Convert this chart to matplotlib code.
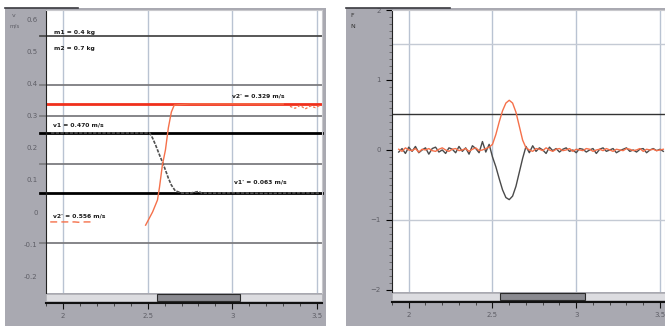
import matplotlib
matplotlib.use('Agg')
import matplotlib.pyplot as plt
import numpy as np
from matplotlib.patches import Rectangle

# ---- data (left panel: velocity, m/s) ----
cart1_t = [1.93, 2.10, 2.30, 2.50, 2.512, 2.529, 2.547, 2.570, 2.587, 2.605, 2.622,
           2.640, 2.663, 2.703, 2.75, 2.80, 2.82, 2.90, 3.00, 3.10, 3.20, 3.30, 3.40, 3.52]
cart1_v = [0.247, 0.247, 0.247, 0.247, 0.247, 0.231, 0.209, 0.178, 0.156, 0.131, 0.106,
           0.084, 0.066, 0.059, 0.059, 0.064, 0.059, 0.059, 0.060, 0.059, 0.058, 0.059, 0.060, 0.059]

cart2_pre_t = [1.925, 1.97, 2.00, 2.07, 2.09, 2.13, 2.18]
cart2_pre_v = [-0.031, -0.031, -0.031, -0.031, -0.032, -0.031, -0.031]
cart2_rise_t = [2.488, 2.529, 2.558, 2.570, 2.587, 2.605, 2.622, 2.640, 2.657, 2.75, 3.0, 3.3]
cart2_rise_v = [-0.041, 0.0, 0.0375, 0.078, 0.147, 0.194, 0.2625, 0.3125, 0.334, 0.3375, 0.3375, 0.3375]
cart2_post_t = [3.34, 3.37, 3.40, 3.43, 3.46, 3.49, 3.52]
cart2_post_v = [0.330, 0.324, 0.333, 0.322, 0.331, 0.326, 0.334]

v_ticks = [0.6, 0.5, 0.4, 0.3, 0.2, 0.1, 0.0, -0.1, -0.2]
v_labels = ['0.6', '0.5', '0.4', '0.3', '0.2', '0.1', '0', '-0.1', '-0.2']
gray_levels = [0.55, 0.397, 0.30, 0.15, -0.097]
v1_mean = 0.247
v1p_mean = 0.059
v2p_mean = 0.3375

# ---- data (right panel: force, N) ----
F_T0 = 1.94
F_DT = 0.02
force2 = [0.01, -0.02, 0.03, 0.0, -0.01, 0.02, -0.03, 0.01, 0.0, 0.02, -0.01, -0.02, 0.01, 0.03,
          0.0, -0.02, 0.01, 0.02, -0.01, 0.0, 0.02, -0.02, 0.01, 0.03, -0.01, 0.0, 0.02, 0.04,
          0.08, 0.22, 0.40, 0.56, 0.67, 0.71, 0.67, 0.54, 0.34, 0.14, 0.03,
          0.0, -0.02, 0.02, 0.01, -0.01, 0.03, 0.0, -0.02, 0.01, 0.02, -0.01, 0.0, 0.02, -0.02,
          0.01, 0.0, -0.01, 0.02, 0.01, -0.02, 0.0, 0.01, -0.01, 0.02, 0.0, -0.02, 0.01, 0.0,
          -0.01, 0.02, 0.01, -0.01, 0.0, 0.02, -0.02, 0.01, 0.0, 0.01, -0.01, 0.0, 0.01]
force1 = [-0.03, 0.02, -0.05, 0.04, -0.02, 0.05, -0.04, 0.0, 0.03, -0.06, 0.02, 0.04, -0.03, 0.0,
          -0.05, 0.03, 0.01, -0.04, 0.05, -0.02, 0.03, -0.06, 0.06, 0.02, -0.04, 0.12, -0.03, 0.08,
          -0.10, -0.24, -0.41, -0.57, -0.68, -0.71, -0.66, -0.52, -0.32, -0.12, 0.05,
          -0.04, 0.06, -0.02, 0.03, 0.0, -0.05, 0.04, -0.01, 0.02, -0.03, 0.01, 0.03, -0.02,
          0.0, -0.04, 0.02, 0.01, -0.03, 0.0, 0.02, -0.05, 0.01, 0.03, -0.02, 0.0, 0.02, -0.04,
          -0.01, 0.01, 0.03, -0.02, 0.0, -0.03, 0.01, 0.02, -0.04, 0.0, 0.02, -0.01, 0.01, -0.02]
f_ticks = [2, 1, 0, -1, -2]
f_levels_light = [1.51, -1.0]
f_level_dark = 0.514

t_ticks = [2.0, 2.5, 3.0, 3.5]
t_labels = ['2', '2.5', '3', '3.5']

W, H = 665, 326
PANEL = '#a9a9b1'
LABEL = '#5e5e66'


def frac(x0, y0, x1, y1):
    # pixel box (top-left origin) -> figure fraction rect
    return [x0 / W, 1 - y1 / H, (x1 - x0) / W, (y1 - y0) / H]


fig = plt.figure(figsize=(W / 100, H / 100), dpi=100)
fig.patch.set_facecolor('white')

# gray window backgrounds
for x0, y0, x1, y1 in [(5, 8, 326, 326), (346, 8, 665, 326)]:
    fig.add_artist(Rectangle((x0 / W, 1 - y1 / H), (x1 - x0) / W, (y1 - y0) / H,
                             transform=fig.transFigure, facecolor=PANEL, edgecolor='none', zorder=0))
for x0, x1 in [(5, 78), (346, 450)]:
    fig.add_artist(plt.Line2D([x0 / W, x1 / W], [1 - 8 / H, 1 - 8 / H], transform=fig.transFigure,
                              color='#3a3a40', lw=1.2))


def style_axes(ax, xlim, ylim, thumb):
    ax.set_xlim(*xlim)
    ax.set_ylim(*ylim)
    ax.set_facecolor('white')
    for s in ['top', 'right']:
        ax.spines[s].set_color('#c8c8cc')
        ax.spines[s].set_linewidth(0.8)
    ax.spines['left'].set_color('#222222')
    ax.spines['bottom'].set_position(('outward', 7.5))
    ax.spines['bottom'].set_color('#111111')
    ax.spines['bottom'].set_linewidth(1.5)
    ax.set_xticks(t_ticks)
    ax.set_xticklabels(t_labels)
    ax.set_xticks(np.arange(1.9, 3.55, 0.1), minor=True)
    ax.tick_params(axis='x', which='major', length=4, width=0.8, color='#111111',
                   labelsize=5, labelcolor=LABEL, pad=3)
    ax.tick_params(axis='x', which='minor', length=2, width=0.6, color='#333333')
    for t in t_ticks:
        ax.axvline(t, color='#b9c3d2', lw=1.0, zorder=1)
    # scrollbar between plot and time axis
    ax.add_patch(Rectangle((0, -0.030), 1, 0.028, transform=ax.transAxes, clip_on=False,
                           facecolor='#dcdce0', edgecolor='#b0b0b4', lw=0.5, zorder=3))
    x_a = (thumb[0] - xlim[0]) / (xlim[1] - xlim[0])
    x_b = (thumb[1] - xlim[0]) / (xlim[1] - xlim[0])
    ax.add_patch(Rectangle((x_a, -0.030), x_b - x_a, 0.028, transform=ax.transAxes, clip_on=False,
                           facecolor='#8a8a90', edgecolor='#2a2a2a', lw=0.8, zorder=4))


# ---- left: velocity ----
axL = fig.add_axes(frac(46, 10, 322, 293))
style_axes(axL, (1.924, 3.529), (-0.253, 0.631), (2.57, 3.055))
axL.set_yticks(v_ticks)
axL.set_yticklabels(v_labels)
axL.tick_params(axis='y', length=0, labelsize=5, labelcolor=LABEL, pad=6)

ytr = axL.get_yaxis_transform()
for i, lv in enumerate(gray_levels):
    axL.plot([-0.02, 1.0], [lv, lv], transform=ytr, clip_on=False,
             color='#4a4a4a' if i == 0 else '#7c7c80', lw=1.3, zorder=2)
for lv in [v1_mean, v1p_mean]:
    axL.plot([-0.02, 1.0], [lv, lv], transform=ytr, clip_on=False, color='black', lw=2.0, zorder=2)
axL.plot([0, 1.0], [v2p_mean, v2p_mean], transform=ytr, color='#f0301c', lw=2.0, zorder=2)

axL.plot(cart1_t, cart1_v, color='#505050', lw=1.2, ls=(0, (2, 0.8)), zorder=5)
axL.plot(cart2_pre_t, cart2_pre_v, color='#f5704a', lw=1.0, ls=(0, (5, 3)), zorder=5)
axL.plot(cart2_rise_t, cart2_rise_v, color='#f5704a', lw=1.0, zorder=5)
axL.plot(cart2_post_t, cart2_post_v, color='#f5704a', lw=0.9, ls=(0, (2, 1.5)), zorder=5)

txt = dict(fontsize=4.3, color='#1a1a1a', fontweight='bold', zorder=6)
axL.text(1.948, 0.557, 'm1 = 0.4 kg', **txt)
axL.text(1.948, 0.507, 'm2 = 0.7 kg', **txt)
axL.text(3.00, 0.357, "v2' = 0.329 m/s", **txt)
axL.text(1.940, 0.268, 'v1 = 0.470 m/s', **txt)
axL.text(3.01, 0.088, "v1' = 0.063 m/s", **txt)
axL.text(1.940, -0.017, "v2' = 0.556 m/s", **txt)
fig.text(12 / W, 1 - 17 / H, 'v', fontsize=4.5, color=LABEL)
fig.text(10 / W, 1 - 28 / H, 'm/s', fontsize=4, color=LABEL)

# ---- right: force ----
axR = fig.add_axes(frac(392, 10, 665, 292))
style_axes(axR, (1.942, 3.53), (-2.03, 2.0), (2.57, 3.065))
axR.set_yticks(f_ticks)
axR.set_yticks(np.arange(-2.0, 2.01, 0.1), minor=True)
axR.tick_params(axis='y', which='major', length=4, width=0.8, labelsize=5, labelcolor=LABEL, pad=4)
axR.tick_params(axis='y', which='minor', length=2, width=0.5, color='#555555')
for lv in f_levels_light:
    axR.axhline(lv, color='#c4cad4', lw=1.0, zorder=1)
axR.axhline(f_level_dark, color='#333333', lw=1.0, zorder=2)

f_t = F_T0 + F_DT * np.arange(len(force2))
axR.plot(F_T0 + F_DT * np.arange(len(force1)), force1, color='#4a4a4a', lw=1.0, zorder=4)
axR.plot(f_t, force2, color='#f5704a', lw=1.0, zorder=5)
fig.text(350 / W, 1 - 17 / H, 'F', fontsize=4.5, color='#333333')
fig.text(350 / W, 1 - 28 / H, 'N', fontsize=4.5, color='#333333')

fig.savefig('out.png', dpi=100)
